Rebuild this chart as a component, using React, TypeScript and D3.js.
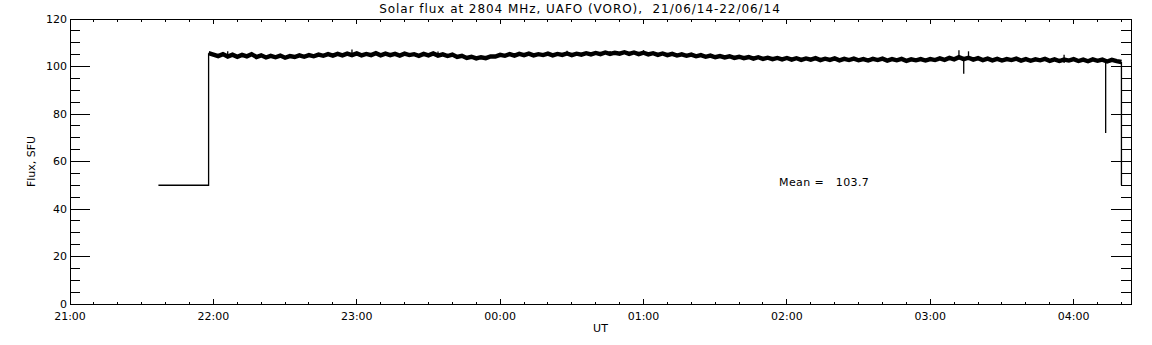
import React, { useEffect } from 'react';
import * as d3 from 'd3';

// minutes after 21:00 UT
const axisStart = 0;
const axisEnd = 444;
const majorTicks = [0, 60, 120, 180, 240, 300, 360, 420];
const majorLabels = ['21:00', '22:00', '23:00', '00:00', '01:00', '02:00', '03:00', '04:00'];
const yTicks = [0, 20, 40, 60, 80, 100, 120];

// before the receiver locked on: flat level at 50
const leadTimes = [37, 58];
const leadValues = [50, 50];

// flux samples, every 2 minutes starting at 21:58
const seriesStart = 58;
const seriesStep = 2;
const fluxValues = [
  105.6, 105.0, 104.4, 105.2, 104.2, 105.0, 104.1, 104.9, 104.3, 105.2,
  104.0, 104.7, 103.8, 104.5, 103.9, 104.6, 103.7, 104.4, 104.0, 104.7,
  104.1, 104.8, 104.3, 105.0, 104.5, 105.2, 104.6, 105.3, 104.7, 105.4,
  104.8, 105.5, 104.7, 105.3, 104.8, 105.6, 104.7, 105.4, 104.8, 105.3,
  104.6, 105.4, 104.8, 105.2, 104.5, 105.3, 104.7, 105.5, 104.6, 105.1,
  104.4, 105.0, 104.0, 104.5, 103.6, 104.1, 103.4, 103.9, 103.5, 104.2,
  104.2, 104.9, 104.5, 105.2, 104.6, 105.3, 104.8, 105.4, 104.7, 105.2,
  104.8, 105.4, 104.7, 105.3, 104.9, 105.5, 104.8, 105.4, 105.0, 105.6,
  105.1, 105.7, 105.2, 105.9, 105.3, 105.8, 105.4, 106.0, 105.3, 105.9,
  105.2, 105.8, 105.1, 105.6, 104.9, 105.5, 104.8, 105.3, 104.6, 105.1,
  104.5, 105.0, 104.3, 104.8, 104.1, 104.6, 103.9, 104.4, 103.8, 104.3,
  103.6, 104.1, 103.5, 104.0, 103.3, 103.9, 103.2, 103.7, 103.1, 103.6,
  103.0, 103.6, 102.9, 103.5, 102.8, 103.4, 102.9, 103.5, 102.7, 103.3,
  102.8, 103.4, 102.6, 103.2, 102.7, 103.3, 102.6, 103.1, 102.5, 103.2,
  102.7, 103.3, 102.5, 103.1, 102.6, 103.2, 102.4, 103.0, 102.6, 103.1,
  102.5, 103.1, 102.7, 103.4, 102.8, 103.6, 103.0, 103.9, 103.1, 103.7,
  102.9, 103.5, 102.7, 103.3, 102.6, 103.2, 102.5, 103.1, 102.7, 103.3,
  102.5, 103.1, 102.4, 103.0, 102.6, 103.2, 102.4, 103.0, 102.3, 102.9,
  102.5, 103.1, 102.3, 102.9, 102.2, 103.0, 102.4, 102.9, 102.1, 102.8,
  102.3, 101.9,
];

// short glitches
const spikeTimes = [66, 118, 154, 208, 226, 240, 372, 374, 376, 416, 433.4];
const spikeTops = [106.4, 107.2, 106.3, 106.6, 106.5, 106.9, 106.8, 103.5, 106.4, 104.9, 103.0];
const spikeBottoms = [104.8, 104.5, 104.7, 104.6, 105.0, 105.3, 103.0, 97.0, 103.2, 101.5, 72.0];

// end of record: back to 50
const tailTimes = [440, 440];
const tailValues = [101.9, 50];

const meanFlux = 103.7;

const W = 1152;
const H = 345;
const font = "'DejaVu Sans', sans-serif";

const App: React.FC = () => {
  useEffect(() => {
    document.body.style.margin = '0';
  }, []);

  const x = d3.scaleLinear().domain([axisStart, axisEnd]).range([70, 1131]);
  const y = d3.scaleLinear().domain([0, 120]).range([304, 19]);

  const minorX = d3.range(axisStart, axisEnd + 1, 10).filter(t => t % 60 !== 0);
  const minorY = d3.range(0, 121, 5).filter(v => v % 20 !== 0);

  const pairLine = d3.line<[number, number]>().x(d => x(d[0])).y(d => y(d[1]));
  const fluxLine = d3.line<number>()
    .x((_, i) => x(seriesStart + i * seriesStep))
    .y(d => y(d));

  const lead: [number, number][] = leadTimes.map((t, i) => [t, leadValues[i]]);
  lead.push([seriesStart, fluxValues[0]]);
  const tail: [number, number][] = tailTimes.map((t, i) => [t, tailValues[i]]);

  const [x0, x1] = x.range();
  const [yb, yt] = y.range();

  return (
    <svg width={W} height={H} style={{ display: 'block', background: '#fff' }} fontFamily={font}>
      <rect width={W} height={H} fill="#fff" />
      <text x={580} y={13} textAnchor="middle" fontSize={12} letterSpacing={0.95}>
        Solar flux at 2804 MHz, UAFO (VORO),{'\u00a0\u00a0'}21/06/14-22/06/14
      </text>

      <g stroke="#000" strokeWidth={1} shapeRendering="crispEdges" fill="none">
        <rect x={x0} y={yt} width={x1 - x0} height={yb - yt} />
        {majorTicks.map(t => (
          <g key={'M' + t}>
            <line x1={x(t)} x2={x(t)} y1={yb} y2={yb - 5} />
            <line x1={x(t)} x2={x(t)} y1={yt} y2={yt + 5} />
          </g>
        ))}
        {minorX.map(t => (
          <g key={'m' + t}>
            <line x1={x(t)} x2={x(t)} y1={yb} y2={yb - 2.5} />
            <line x1={x(t)} x2={x(t)} y1={yt} y2={yt + 2.5} />
          </g>
        ))}
        {yTicks.map(v => (
          <g key={'Y' + v}>
            <line x1={x0} x2={x0 + 20} y1={y(v)} y2={y(v)} />
            <line x1={x1} x2={x1 - 20} y1={y(v)} y2={y(v)} />
          </g>
        ))}
        {minorY.map(v => (
          <g key={'y' + v}>
            <line x1={x0} x2={x0 + 10} y1={y(v)} y2={y(v)} />
            <line x1={x1} x2={x1 - 10} y1={y(v)} y2={y(v)} />
          </g>
        ))}
      </g>

      <g fontSize={11}>
        {majorTicks.map((t, i) => (
          <text key={t} x={x(t)} y={319.5} textAnchor="middle">{majorLabels[i]}</text>
        ))}
        {yTicks.map(v => (
          <text key={v} x={67} y={y(v)} dy="0.36em" textAnchor="end">{v}</text>
        ))}
        <text x={(x0 + x1) / 2} y={332} textAnchor="middle">UT</text>
        <text transform={`translate(35,${(yb + yt) / 2}) rotate(-90)`} textAnchor="middle">Flux, SFU</text>
        <text x={779} y={186} letterSpacing={0.4}>{'Mean =\u00a0\u00a0\u00a0' + meanFlux.toFixed(1)}</text>
      </g>

      <g fill="none" stroke="#000">
        <path d={pairLine(lead) || ''} strokeWidth={1.3} />
        <path d={pairLine(tail) || ''} strokeWidth={1.3} />
        <path d={fluxLine(fluxValues) || ''} strokeWidth={4.4} strokeLinejoin="miter" />
        {spikeTimes.map((t, i) => (
          <line key={i} x1={x(t)} x2={x(t)} y1={y(spikeTops[i])} y2={y(spikeBottoms[i])} strokeWidth={1.3} />
        ))}
      </g>
    </svg>
  );
};

export default App;
